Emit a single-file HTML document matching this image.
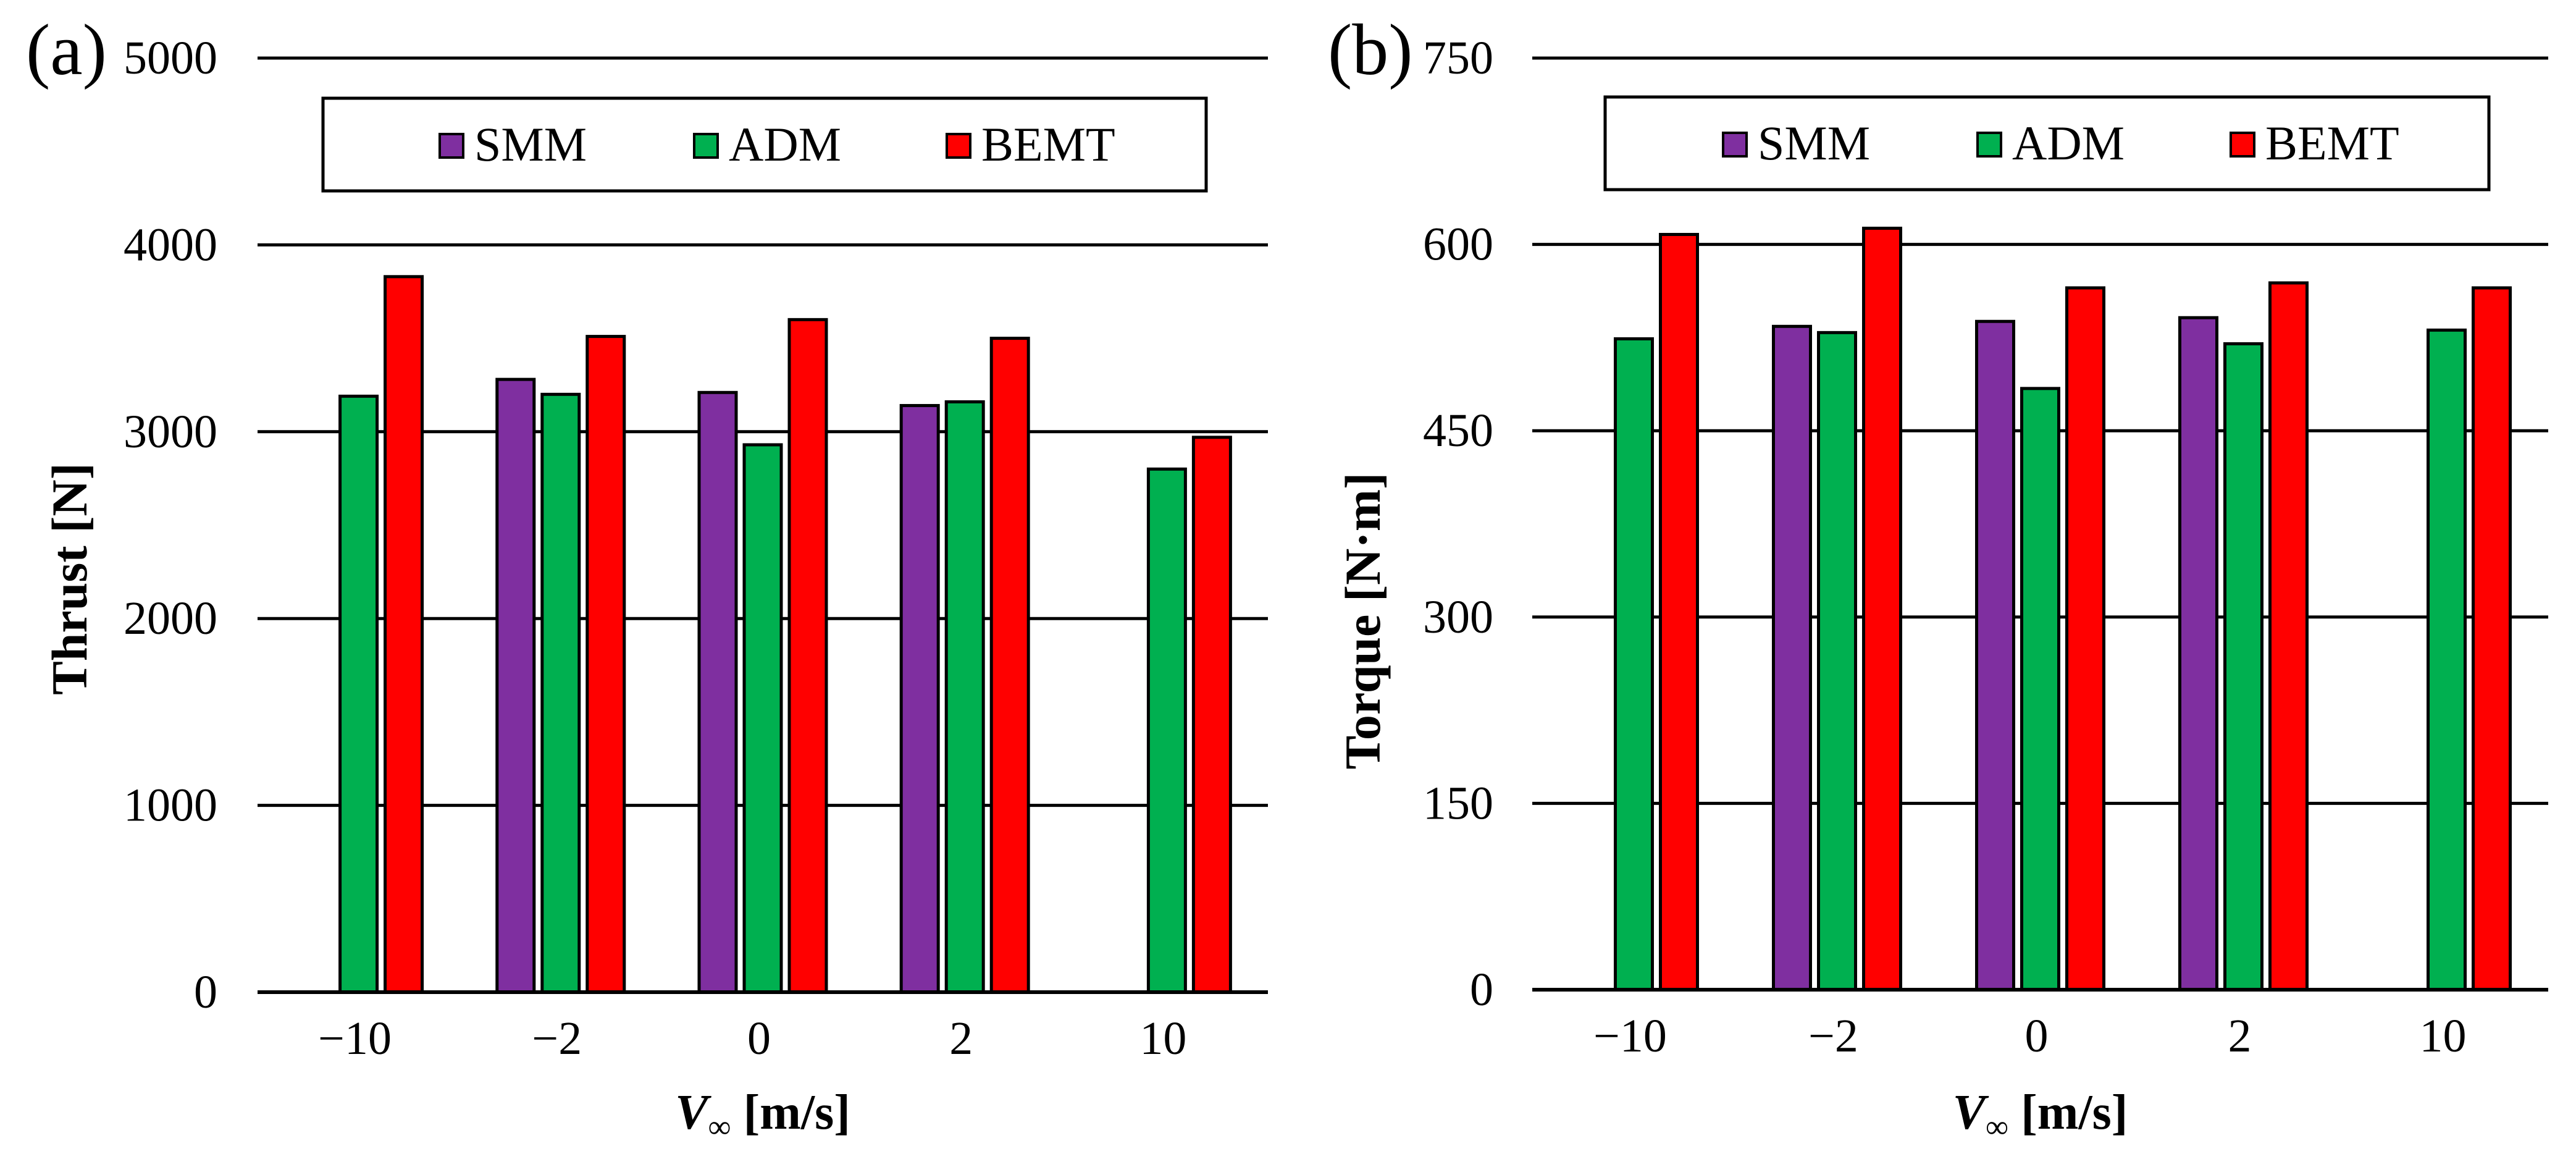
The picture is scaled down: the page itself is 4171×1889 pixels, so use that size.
<!DOCTYPE html>
<html><head><meta charset="utf-8"><style>
html,body{margin:0;padding:0;background:#fff;}
svg{display:block;font-family:"Liberation Serif","Times New Roman",serif;}
</style></head><body>
<svg id="fig" width="4171" height="1889" viewBox="0 0 4171 1889" xmlns="http://www.w3.org/2000/svg"></svg>
<script>
const categories = ["\u221210", "\u22122", "0", "2", "10"];
const seriesNames = ["SMM", "ADM", "BEMT"];
const thrustSMM  = [null, 3280, 3210, 3140, null];
const thrustADM  = [3190, 3200, 2930, 3160, 2800];
const thrustBEMT = [3830, 3510, 3600, 3500, 2970];
const torqueSMM  = [null, 534, 538, 541, null];
const torqueADM  = [524, 529, 484, 520, 531];
const torqueBEMT = [608, 613, 565, 569, 565];
const thrustTicks = [0, 1000, 2000, 3000, 4000, 5000];
const torqueTicks = [0, 150, 300, 450, 600, 750];
const colors = ["#7f2fa0", "#00b050", "#ff0000"];

const NS = "http://www.w3.org/2000/svg";
const svg = document.getElementById("fig");
function mk(tag, attrs, parent) {
  const e = document.createElementNS(NS, tag);
  for (const k in attrs) e.setAttribute(k, attrs[k]);
  (parent || svg).appendChild(e);
  return e;
}

function panel(cfg) {
  const g = mk("g", {});
  
  
  const yMax = cfg.ticks[cfg.ticks.length - 1];
  const yScale = v => cfg.y0 - (v / yMax) * (cfg.y0 - cfg.yTop);
  const catW = (cfg.x1 - cfg.x0) / categories.length;
  const xCenter = i => cfg.x0 + catW * (i + 0.5);
  const barW = 60, step = 73;
  cfg.ticks.forEach(t => {
    const y = yScale(t);
    const l = mk("line", {x1: cfg.x0, x2: cfg.x1, y1: y, y2: y, stroke: "#000", "stroke-width": 5}, g);
    
    
    const tx = mk("text", {x: cfg.tickX, y: y + 25, "text-anchor": "end", "font-size": 76, fill: "#000"}, g);
    tx.textContent = t;
    
    
  });
  cfg.series.forEach((vals, s) => {
    vals.forEach((v, i) => {
      if (v === null) return;
      const cx = xCenter(i) + (s - 1) * step;
      const y = yScale(v);
      const r = mk("rect", {x: cx - barW / 2, y: y, width: barW, height: cfg.y0 - y, fill: colors[s], stroke: "#000", "stroke-width": 5}, g);
      
      
    });
  });
  const bl = mk("line", {x1: cfg.x0, x2: cfg.x1, y1: cfg.y0, y2: cfg.y0, stroke: "#000", "stroke-width": 6}, g);
  
  
  categories.forEach((c, i) => {
    const t = mk("text", {x: xCenter(i) - 6, y: cfg.y0 + 100, "text-anchor": "middle", "font-size": 76, fill: "#000"}, g);
    t.textContent = c;
    
    
  });
  const xt = mk("text", {x: (cfg.x0 + cfg.x1) / 2, y: 1827, "text-anchor": "middle", "font-size": 80, "font-weight": "bold", fill: "#000"}, g);
  
  
  const v1 = mk("tspan", {"font-style": "italic"}, xt); v1.textContent = "V";
  const v2 = mk("tspan", {"font-size": 52, "font-weight": "normal", dy: 14}, xt); v2.textContent = "\u221e";
  const v3 = mk("tspan", {dy: -14}, xt); v3.textContent = " [m/s]";
  const yt = mk("text", {x: 0, y: 0, "text-anchor": "middle", "font-size": 82, "font-weight": "bold", fill: "#000",
    transform: "translate(" + cfg.yTitleX + "," + cfg.yTitleY + ") rotate(-90)"}, g);
  yt.textContent = cfg.yTitle;
  
  
  const pl = mk("text", {x: cfg.labelX, y: 120, "font-size": 118, fill: "#000"}, g);
  pl.textContent = cfg.label;
  
  
  const lg = mk("g", {}, g);
  
  
  mk("rect", {x: cfg.legX0, y: cfg.legY0, width: cfg.legX1 - cfg.legX0, height: 150, fill: "#fff", stroke: "#000", "stroke-width": 5}, lg);
  seriesNames.forEach((n, s) => {
    const sx = cfg.legSq[s];
    const it = mk("g", {}, lg);
    
    
    mk("rect", {x: sx, y: cfg.legY0 + 58, width: 38, height: 38, fill: colors[s], stroke: "#000", "stroke-width": 4}, it);
    const t = mk("text", {x: sx + 56, y: cfg.legY0 + 101, "font-size": 78, fill: "#000"}, it);
    t.textContent = n;
  });
}

panel({name: "thrust-chart", x0: 417, x1: 2053, y0: 1606, yTop: 94, ticks: thrustTicks,
  series: [thrustSMM, thrustADM, thrustBEMT], tickX: 352, yTitle: "Thrust [N]", yTitleX: 140, yTitleY: 937,
  label: "(a)", labelX: 42, legX0: 523, legX1: 1953, legY0: 159, legSq: [712, 1124, 1533]});
panel({name: "torque-chart", x0: 2481, x1: 4126, y0: 1602, yTop: 94, ticks: torqueTicks,
  series: [torqueSMM, torqueADM, torqueBEMT], tickX: 2418, yTitle: "Torque [N\u00b7m]", yTitleX: 2234, yTitleY: 1005,
  label: "(b)", labelX: 2150, legX0: 2599, legX1: 4030, legY0: 157, legSq: [2790, 3202, 3612]});
</script>
</body></html>
